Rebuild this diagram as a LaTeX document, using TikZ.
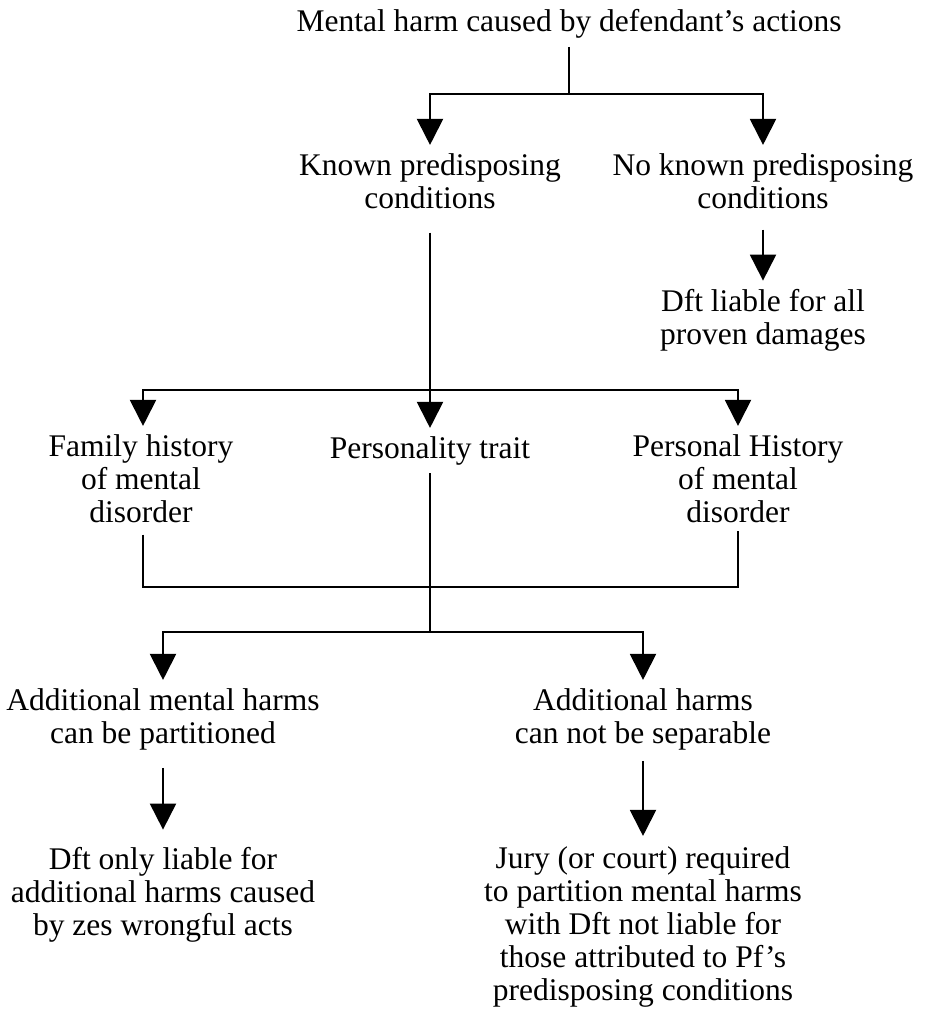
\documentclass[tikz,border=0pt]{standalone}
\usepackage{fontspec}
\setmainfont{Liberation Serif}
\usetikzlibrary{arrows.meta}
\tikzset{
  txt/.style={align=center, anchor=base, inner xsep=0pt, inner ysep=8pt,
    font=\fontsize{31.5}{33}\selectfont},
  conn/.style={line width=2pt},
  arr/.style={conn, -{Triangle[width=26pt,length=26pt]}}
}
\begin{document}
\begin{tikzpicture}[x=1pt,y=-1pt]
  \useasboundingbox (0,0) rectangle (927,1019);

  % text nodes (placed by last baseline)
  \node[txt] (harm)       at (569,32)   {Mental harm caused by defendant's actions};
  \node[txt] (known)      at (430,208)  {Known predisposing\\conditions};
  \node[txt] (noknown)    at (763,208)  {No known predisposing\\conditions};
  \node[txt] (liable)     at (763,344)  {Dft liable for all\\proven damages};
  \node[txt] (family)     at (141,522)  {Family history\\of mental\\disorder};
  \node[txt] (trait)      at (430,458)  {Personality trait};
  \node[txt] (personal)   at (738,522)  {Personal History\\of mental\\disorder};
  \node[txt] (partition)  at (163,743)  {Additional mental harms\\can be partitioned};
  \node[txt] (separable)  at (643,743)  {Additional harms\\can not be separable};
  \node[txt] (onlyliable) at (163,935)  {Dft only liable for\\additional harms caused\\by zes wrongful acts};
  \node[txt] (jury)       at (643,1000) {Jury (or court) required\\to partition mental harms\\with Dft not liable for\\those attributed to Pf's\\predisposing conditions};

  % junctions
  \coordinate (split1) at (569,94);
  \coordinate (split2) at (430,390);
  \coordinate (join)   at (430,587);
  \coordinate (split3) at (430,632);

  % connectors
  \draw[conn] (harm) -- (split1);
  \draw[arr] (split1) -| (known);
  \draw[arr] (split1) -| (noknown);
  \draw[arr, shorten <=13pt] (noknown) -- (liable);
  \draw[conn, shorten <=16pt] (known) -- (split2);
  \draw[arr] (split2) -| ([xshift=2pt]family.north);
  \draw[arr] (split2) -- (trait);
  \draw[arr] (split2) -| (personal);
  \draw[conn, shorten <=4pt] ([xshift=2pt]family.south) |- (join) -| (personal);
  \draw[conn] (trait) -- (split3);
  \draw[arr] (split3) -| (partition);
  \draw[arr] (split3) -| (separable);
  \draw[arr, shorten <=10pt, shorten >=9pt] (partition) -- (onlyliable);
  \draw[arr, shorten <=3pt, shorten >=2pt] (separable) -- (jury);
\end{tikzpicture}
\end{document}
